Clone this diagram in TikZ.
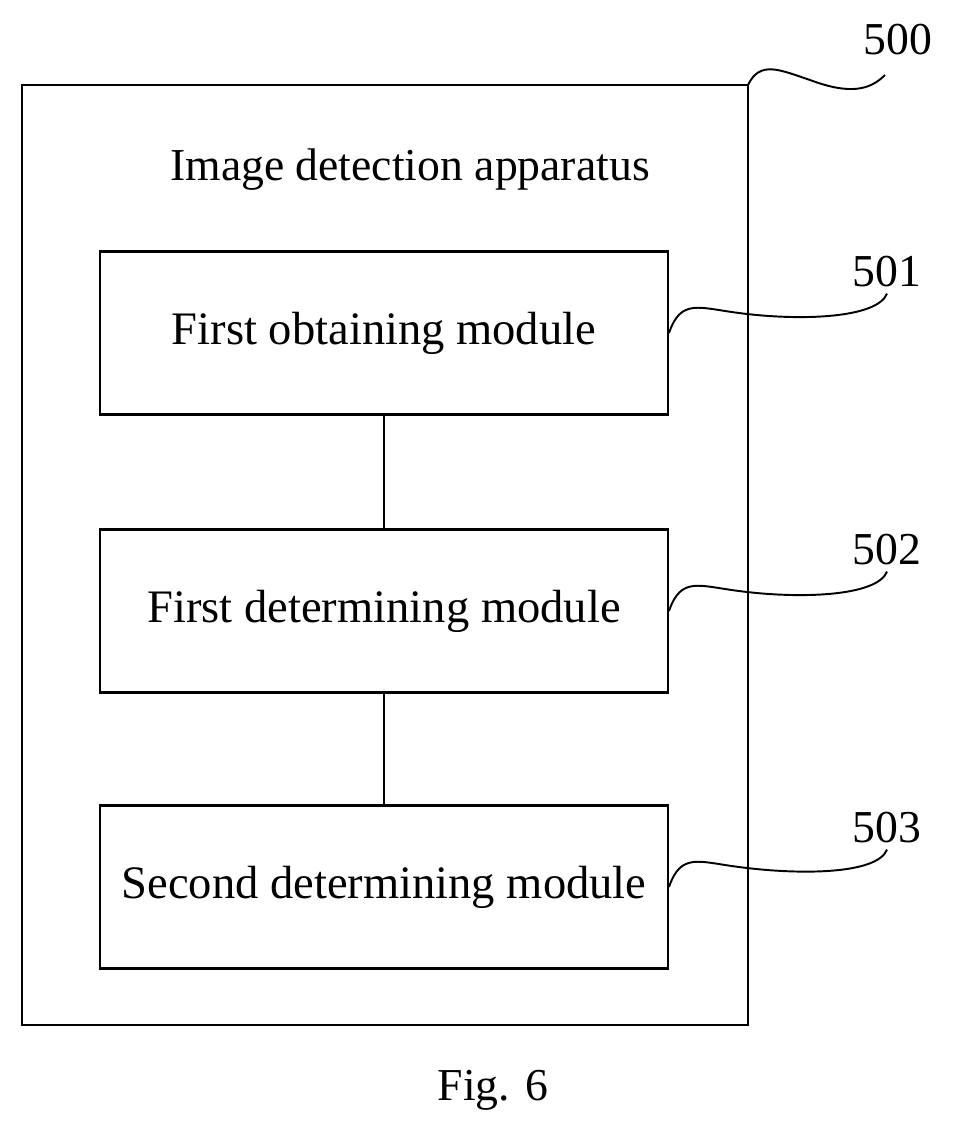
\documentclass[tikz,border=0pt]{standalone}
\usepackage{fontspec}
\setmainfont{Liberation Serif}
\usetikzlibrary{positioning}
\tikzset{
  module/.style={draw, line width=1.2pt, minimum width=11.36cm, minimum height=3.26cm, font=\fontsize{26.5}{30}\selectfont},
  reflabel/.style={font=\fontsize{26}{30}\selectfont},
  lead/.style={line width=1.1pt}
}
\begin{document}
\begin{tikzpicture}[x=0.02cm, y=-0.02cm]
  \useasboundingbox (0,0) rectangle (953,1136);
  % outer frame
  \draw[line width=1.2pt] (22,85) rectangle (748,1025);
  \coordinate (frame) at (748,85);
  \node[reflabel] (title) at (410,170) {Image detection apparatus};

  \node[module] (obtain) at (384,333) {First obtaining module};
  \node[module] (first) at (384,611) {First determining module};
  \node[module] (second) at (384,887) {Second determining module};

  \draw[lead] (obtain) -- (first);
  \draw[lead] (first) -- (second);

  % reference numerals
  \node[reflabel] (n500) at (898,40) {500};
  \node[reflabel] (n501) at (887,272) {501};
  \node[reflabel] (n502) at (887,550) {502};
  \node[reflabel] (n503) at (887,828) {503};

  \draw[lead] (frame) .. controls (760,60) and (780,70) .. (810,80)
    .. controls (850,95) and (870,90) .. (885,75);
  \foreach \m/\n in {obtain/n501, first/n502, second/n503} {
    \draw[lead] (\m.east) .. controls ++(12,-35) and ++(-40,-5) .. ++(70,-20)
      .. controls ++(60,8) and ++(-10,25) .. (\n.south);
  }

  \node[reflabel] (fig) at (493,1090) {Fig. 6};
\end{tikzpicture}
\end{document}
